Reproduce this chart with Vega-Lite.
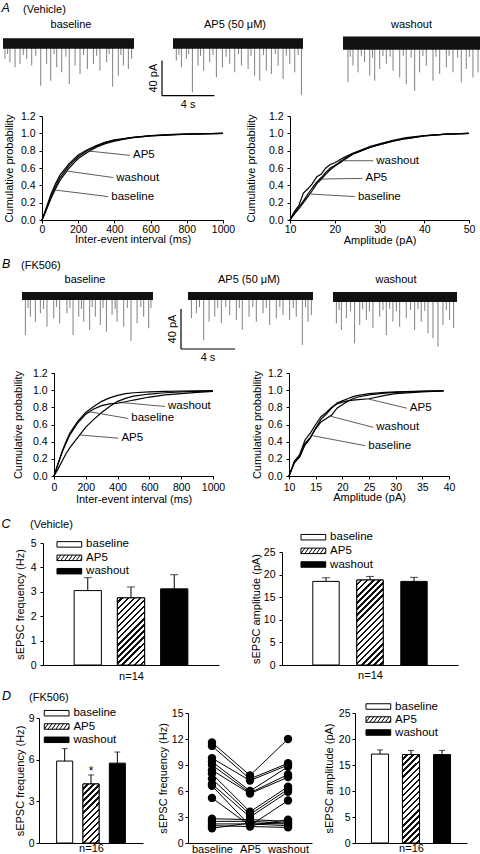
{
"$schema":"https://vega.github.io/schema/vega-lite/v6.json",
"padding":{"left":0,"top":2,"right":0,"bottom":0},
"autosize":{"type":"pad"},
"background":"white",
"spacing":0,
"resolve":{"scale":{"fill":"independent","shape":"independent","stroke":"independent"},"legend":{"fill":"independent","shape":"independent","stroke":"independent"}},
"config":{
 "font":"Liberation Sans",
 "view":{"stroke":null},
 "axis":{"domainColor":"black","tickColor":"black","labelColor":"black","titleColor":"black","grid":false,"labelFontSize":10.5,"titleFontSize":11,"titleFontWeight":"normal","tickSize":3,"labelPadding":4,"labelFlush":false,"labelOverlap":false,"domainWidth":1,"tickWidth":1},
 "title":{"fontSize":11,"fontWeight":"normal","color":"black","limit":400,"frame":"group"},
 "legend":{"labelFontSize":11.5,"labelColor":"black","symbolStrokeColor":"black","symbolStrokeWidth":1,"symbolSize":30.25,"symbolOpacity":1,"labelOffset":11,"padding":0,"orient":"none"},
 "text":{"color":"black","fontSize":11.5}
},
"vconcat":[
{"hconcat":[
 {"width":1,"height":78,"data":{"values":[]},"mark":"point","title":{"text":"A","fontSize":12.5,"fontStyle":"italic","anchor":"start","offset":18.2,"dx":1.5}},
 {"width":2,"height":1,"data":{"values":[]},"mark":"point","title":{"text":"(Vehicle)","fontSize":11,"anchor":"start","offset":18.5,"dx":22}},
 {"width":131,"height":65,"title":{"text":"baseline","offset":2.9,"dx":2.5},
  "layer":[
   {"data":{"values":[{"t":0.15,"a":-17.5},{"t":0.35,"a":-12},{"t":0.53,"a":-21.3},{"t":0.92,"a":-27},{"t":1.3,"a":-23.2},{"t":1.55,"a":-13},{"t":1.81,"a":-17.5},{"t":2.19,"a":-25.1},{"t":2.5,"a":-14},{"t":2.88,"a":-48},{"t":3.33,"a":-23.2},{"t":3.64,"a":-42.3},{"t":3.9,"a":-12},{"t":4.1,"a":-27},{"t":4.48,"a":-32.8},{"t":4.8,"a":-15},{"t":5.06,"a":-46.1},{"t":5.5,"a":-25.1},{"t":5.88,"a":-34.7},{"t":6.15,"a":-13},{"t":6.44,"a":-29},{"t":6.9,"a":-23.2},{"t":7.15,"a":-14},{"t":7.4,"a":-30.9},{"t":7.91,"a":-21.3},{"t":8.1,"a":-12},{"t":8.37,"a":-49.1},{"t":8.8,"a":-36.6},{"t":9.0,"a":-13},{"t":9.19,"a":-25.1},{"t":9.57,"a":-29},{"t":9.82,"a":-17.5}]},
    "mark":{"type":"rule","color":"#808080","strokeWidth":1},
    "encoding":{"x":{"field":"t","type":"quantitative","scale":{"domain":[0,10],"nice":false,"zero":false},"axis":null},"y":{"field":"a","type":"quantitative","scale":{"domain":[-62,12],"nice":false,"zero":false},"axis":null},"y2":{"datum":0}}},
   {"data":{"values":[{"t0":0,"t1":10,"lo":-6,"hi":6}]},"mark":{"type":"rect","color":"#111"},
    "encoding":{"x":{"field":"t0","type":"quantitative","axis":null},"x2":{"field":"t1"},"y":{"field":"lo","type":"quantitative","axis":null},"y2":{"field":"hi"}}}
  ]},
 {"width":28,"height":1,"data":{"values":[]},"mark":"point"},
 {"width":141,"height":65,"title":{"text":"AP5 (50 μM)","offset":2.9,"dx":2.5},
  "layer":[
   {"data":{"values":[{"t":0.25,"a":-19.4},{"t":0.45,"a":-13},{"t":0.64,"a":-27},{"t":1.02,"a":-17.5},{"t":1.2,"a":-12},{"t":1.48,"a":-55.6},{"t":1.91,"a":-25.1},{"t":2.1,"a":-14},{"t":2.34,"a":-30.9},{"t":2.8,"a":-21.3},{"t":3.05,"a":-13},{"t":3.31,"a":-38.5},{"t":3.77,"a":-27},{"t":4.05,"a":-15},{"t":4.33,"a":-23.2},{"t":4.71,"a":-32.8},{"t":5.0,"a":-12},{"t":5.22,"a":-25.1},{"t":5.73,"a":-29},{"t":5.95,"a":-14},{"t":6.23,"a":-36.6},{"t":6.62,"a":-42.3},{"t":6.9,"a":-13},{"t":7.12,"a":-30.9},{"t":7.51,"a":-34.7},{"t":7.8,"a":-12},{"t":8.02,"a":-25.1},{"t":8.4,"a":-40.4},{"t":8.65,"a":-14},{"t":8.91,"a":-23.2},{"t":9.29,"a":-32.8},{"t":9.55,"a":-13},{"t":9.8,"a":-58.3}]},
    "mark":{"type":"rule","color":"#808080","strokeWidth":1},
    "encoding":{"x":{"field":"t","type":"quantitative","scale":{"domain":[-0.84,9.92],"nice":false,"zero":false},"axis":null},"y":{"field":"a","type":"quantitative","scale":{"domain":[-62,12],"nice":false,"zero":false},"axis":null},"y2":{"datum":0}}},
   {"data":{"values":[{"t0":0,"t1":9.92,"lo":-6,"hi":6}]},"mark":{"type":"rect","color":"#111"},
    "encoding":{"x":{"field":"t0","type":"quantitative","axis":null},"x2":{"field":"t1"},"y":{"field":"lo","type":"quantitative","axis":null},"y2":{"field":"hi"}}},
   {"data":{"values":[{"x1":-0.84,"y1":-19.4,"x2":-0.84,"y2":-59.4},{"x1":-0.84,"y1":-59.4,"x2":3.16,"y2":-59.4}]},"mark":{"type":"rule","color":"black","strokeWidth":1.2},
    "encoding":{"x":{"field":"x1","type":"quantitative","axis":null},"x2":{"field":"x2"},"y":{"field":"y1","type":"quantitative","axis":null},"y2":{"field":"y2"}}},
   {"data":{"values":[{"x":-0.84,"y":-39.4,"lab":"40 pA"}]},"mark":{"type":"text","angle":270,"align":"center","baseline":"bottom","dy":-3,"fontSize":11},
    "encoding":{"x":{"field":"x","type":"quantitative","axis":null},"y":{"field":"y","type":"quantitative","axis":null},"text":{"field":"lab"}}},
   {"data":{"values":[{"x":1.16,"y":-59.4,"lab":"4 s"}]},"mark":{"type":"text","align":"center","baseline":"top","dy":3,"fontSize":11},
    "encoding":{"x":{"field":"x","type":"quantitative","axis":null},"y":{"field":"y","type":"quantitative","axis":null},"text":{"field":"lab"}}}
  ]},
 {"width":40,"height":1,"data":{"values":[]},"mark":"point"},
 {"width":137,"height":65,"title":{"text":"washout","offset":2.9,"dx":0},
  "layer":[
   {"data":{"values":[{"t":0.38,"a":-44.2},{"t":0.55,"a":-15},{"t":0.76,"a":-25.1},{"t":1.15,"a":-32.8},{"t":1.4,"a":-14},{"t":1.65,"a":-21.3},{"t":2.04,"a":-36.6},{"t":2.25,"a":-16},{"t":2.42,"a":-42.3},{"t":2.8,"a":-29},{"t":3.05,"a":-14},{"t":3.31,"a":-23.2},{"t":3.6,"a":-15},{"t":3.82,"a":-30.9},{"t":4.33,"a":-38.5},{"t":4.6,"a":-14},{"t":4.83,"a":-46.1},{"t":5.2,"a":-16},{"t":5.47,"a":-53.7},{"t":5.85,"a":-32.8},{"t":6.1,"a":-14},{"t":6.36,"a":-25.1},{"t":6.87,"a":-42.3},{"t":7.1,"a":-15},{"t":7.38,"a":-34.7},{"t":7.89,"a":-27},{"t":8.1,"a":-14},{"t":8.4,"a":-32.8},{"t":8.75,"a":-16},{"t":9.03,"a":-44.2},{"t":9.41,"a":-29},{"t":9.65,"a":-15},{"t":9.92,"a":-38.5},{"t":10.31,"a":-32.8}]},
    "mark":{"type":"rule","color":"#808080","strokeWidth":1},
    "encoding":{"x":{"field":"t","type":"quantitative","scale":{"domain":[0,10.46],"nice":false,"zero":false},"axis":null},"y":{"field":"a","type":"quantitative","scale":{"domain":[-62,12],"nice":false,"zero":false},"axis":null},"y2":{"datum":0}}},
   {"data":{"values":[{"t0":0,"t1":10.46,"lo":-7,"hi":8}]},"mark":{"type":"rect","color":"#111"},
    "encoding":{"x":{"field":"t0","type":"quantitative","axis":null},"x2":{"field":"t1"},"y":{"field":"lo","type":"quantitative","axis":null},"y2":{"field":"hi"}}}
  ]}
],"spacing":0,"bounds":"flush"},
{"hconcat":[
 {"width":42,"height":141.9,"data":{"values":[]},"mark":"point"},
 {"width":181,"height":104,
  "layer":[
   {"data":{"values":[{"x":0,"baseline":0,"washout":0,"AP5":0},{"x":25,"baseline":0.12,"washout":0.13,"AP5":0.15},{"x":50,"baseline":0.25,"washout":0.27,"AP5":0.3},{"x":75,"baseline":0.36,"washout":0.39,"AP5":0.42},{"x":100,"baseline":0.46,"washout":0.49,"AP5":0.52},{"x":150,"baseline":0.6,"washout":0.63,"AP5":0.65},{"x":200,"baseline":0.71,"washout":0.73,"AP5":0.75},{"x":250,"baseline":0.78,"washout":0.8,"AP5":0.81},{"x":300,"baseline":0.84,"washout":0.85,"AP5":0.86},{"x":350,"baseline":0.88,"washout":0.89,"AP5":0.9},{"x":400,"baseline":0.91,"washout":0.92,"AP5":0.925},{"x":500,"baseline":0.95,"washout":0.95,"AP5":0.955},{"x":600,"baseline":0.97,"washout":0.97,"AP5":0.975},{"x":700,"baseline":0.98,"washout":0.985,"AP5":0.985},{"x":800,"baseline":0.99,"washout":0.99,"AP5":0.99},{"x":1000,"baseline":1,"washout":1,"AP5":1}]},
    "transform":[{"fold":["baseline","washout","AP5"],"as":["s","y"]}],
    "mark":{"type":"line","color":"black","strokeWidth":1.2},
    "encoding":{"x":{"field":"x","type":"quantitative","scale":{"domain":[0,1000],"nice":false},"axis":{"values":[0,200,400,600,800,1000],"format":"d","title":"Inter-event interval (ms)","labelPadding":1,"titlePadding":-1,"labelOverlap":false}},
     "y":{"field":"y","type":"quantitative","scale":{"domain":[0,1.2],"nice":false},"axis":{"values":[0,0.2,0.4,0.6,0.8,1,1.2],"format":".1f","title":"Cumulative probability","titlePadding":6,"labelOverlap":false}},
     "detail":{"field":"s","type":"nominal"}}},
   {"data":{"values":[{"lab":"AP5","x1":256,"y1":0.796,"x2":486,"y2":0.746},{"lab":"washout","x1":136,"y1":0.565,"x2":394,"y2":0.49},{"lab":"baseline","x1":72,"y1":0.346,"x2":366,"y2":0.27}]},
    "layer":[
     {"mark":{"type":"rule","color":"#333","strokeWidth":0.8},"encoding":{"x":{"field":"x1","type":"quantitative","axis":{"values":[0,200,400,600,800,1000],"format":"d","title":"Inter-event interval (ms)","labelPadding":1,"titlePadding":-1,"labelOverlap":false}},"y":{"field":"y1","type":"quantitative","axis":{"values":[0,0.2,0.4,0.6,0.8,1,1.2],"format":".1f","title":"Cumulative probability","titlePadding":6,"labelOverlap":false}},"x2":{"field":"x2"},"y2":{"field":"y2"}}},
     {"mark":{"type":"text","align":"left","baseline":"middle","dx":3},"encoding":{"x":{"field":"x2","type":"quantitative","axis":{"values":[0,200,400,600,800,1000],"format":"d","title":"Inter-event interval (ms)","labelPadding":1,"titlePadding":-1,"labelOverlap":false}},"y":{"field":"y2","type":"quantitative","axis":{"values":[0,0.2,0.4,0.6,0.8,1,1.2],"format":".1f","title":"Cumulative probability","titlePadding":6,"labelOverlap":false}},"text":{"field":"lab"}}}
    ]}
  ]},
 {"width":67,"height":1,"data":{"values":[]},"mark":"point"},
 {"width":179,"height":104,
  "layer":[
   {"data":{"values":[{"x":10,"washout":0,"AP5":0,"baseline":0},{"x":11,"washout":0.1,"AP5":0.08,"baseline":0.07},{"x":12,"washout":0.17,"AP5":0.15,"baseline":0.13},{"x":13,"washout":0.31,"AP5":0.22,"baseline":0.2},{"x":14,"washout":0.36,"AP5":0.3,"baseline":0.27},{"x":15,"washout":0.42,"AP5":0.37,"baseline":0.34},{"x":16,"washout":0.5,"AP5":0.44,"baseline":0.42},{"x":17,"washout":0.53,"AP5":0.49,"baseline":0.47},{"x":18,"washout":0.6,"AP5":0.55,"baseline":0.53},{"x":19,"washout":0.64,"AP5":0.6,"baseline":0.58},{"x":20,"washout":0.66,"AP5":0.63,"baseline":0.62},{"x":22,"washout":0.72,"AP5":0.7,"baseline":0.69},{"x":24,"washout":0.77,"AP5":0.76,"baseline":0.76},{"x":26,"washout":0.81,"AP5":0.8,"baseline":0.8},{"x":28,"washout":0.85,"AP5":0.84,"baseline":0.84},{"x":30,"washout":0.88,"AP5":0.87,"baseline":0.87},{"x":33,"washout":0.92,"AP5":0.91,"baseline":0.91},{"x":36,"washout":0.95,"AP5":0.94,"baseline":0.94},{"x":40,"washout":0.975,"AP5":0.97,"baseline":0.97},{"x":45,"washout":0.99,"AP5":0.99,"baseline":0.99},{"x":50,"washout":1,"AP5":1,"baseline":1}]},
    "transform":[{"fold":["baseline","washout","AP5"],"as":["s","y"]}],
    "mark":{"type":"line","color":"black","strokeWidth":1.2},
    "encoding":{"x":{"field":"x","type":"quantitative","scale":{"domain":[10,50],"nice":false,"zero":false},"axis":{"values":[10,20,30,40,50],"title":"Amplitude (pA)","labelPadding":1,"titlePadding":0,"labelOverlap":false}},
     "y":{"field":"y","type":"quantitative","scale":{"domain":[0,1.2],"nice":false},"axis":{"values":[0,0.2,0.4,0.6,0.8,1,1.2],"format":".1f","title":"Cumulative probability","titlePadding":12,"labelOverlap":false}},
     "detail":{"field":"s","type":"nominal"}}},
   {"data":{"values":[{"lab":"washout","x1":20.8,"y1":0.684,"x2":28.6,"y2":0.684},{"lab":"AP5","x1":17.1,"y1":0.473,"x2":26.2,"y2":0.48},{"lab":"baseline","x1":14.5,"y1":0.3,"x2":24.5,"y2":0.27}]},
    "layer":[
     {"mark":{"type":"rule","color":"#333","strokeWidth":0.8},"encoding":{"x":{"field":"x1","type":"quantitative","axis":{"values":[10,20,30,40,50],"title":"Amplitude (pA)","labelPadding":1,"titlePadding":0,"labelOverlap":false}},"y":{"field":"y1","type":"quantitative","axis":{"values":[0,0.2,0.4,0.6,0.8,1,1.2],"format":".1f","title":"Cumulative probability","titlePadding":12,"labelOverlap":false}},"x2":{"field":"x2"},"y2":{"field":"y2"}}},
     {"mark":{"type":"text","align":"left","baseline":"middle","dx":3},"encoding":{"x":{"field":"x2","type":"quantitative","axis":{"values":[10,20,30,40,50],"title":"Amplitude (pA)","labelPadding":1,"titlePadding":0,"labelOverlap":false}},"y":{"field":"y2","type":"quantitative","axis":{"values":[0,0.2,0.4,0.6,0.8,1,1.2],"format":".1f","title":"Cumulative probability","titlePadding":12,"labelOverlap":false}},"text":{"field":"lab"}}}
    ]}
  ]}
],"spacing":0,"bounds":"flush"},
{"hconcat":[
 {"width":1,"height":79.5,"data":{"values":[]},"mark":"point","title":{"text":"B","fontSize":12.5,"fontStyle":"italic","anchor":"start","offset":17.1,"dx":2}},
 {"width":21,"height":1,"data":{"values":[]},"mark":"point","title":{"text":"(FK506)","fontSize":11,"anchor":"start","offset":17.4,"dx":20}},
 {"width":131,"height":62,"title":{"text":"baseline","offset":3.4,"dx":-2.5},
  "layer":[
   {"data":{"values":[{"t":0.25,"a":-39},{"t":0.45,"a":-12},{"t":0.62,"a":-20.7},{"t":0.99,"a":-25.7},{"t":1.36,"a":-17.3},{"t":1.6,"a":-13},{"t":1.85,"a":-30.7},{"t":2.35,"a":-22.3},{"t":2.55,"a":-11},{"t":2.79,"a":-27.3},{"t":3.33,"a":-17.3},{"t":3.55,"a":-12},{"t":3.78,"a":-39},{"t":4.2,"a":-20.7},{"t":4.4,"a":-13},{"t":4.57,"a":-25.7},{"t":5.01,"a":-34},{"t":5.2,"a":-11},{"t":5.43,"a":-20.7},{"t":5.8,"a":-29},{"t":6.0,"a":-12},{"t":6.25,"a":-35.7},{"t":6.67,"a":-19},{"t":6.9,"a":-13},{"t":7.04,"a":-25.7},{"t":7.53,"a":-30.7},{"t":7.8,"a":-12},{"t":8.07,"a":-44.7},{"t":8.52,"a":-27.3},{"t":8.8,"a":-11},{"t":9.01,"a":-20.7},{"t":9.38,"a":-32.3},{"t":9.55,"a":-12}]},
    "mark":{"type":"rule","color":"#808080","strokeWidth":1},
    "encoding":{"x":{"field":"t","type":"quantitative","scale":{"domain":[0,9.7],"nice":false,"zero":false},"axis":null},"y":{"field":"a","type":"quantitative","scale":{"domain":[-54,8],"nice":false,"zero":false},"axis":null},"y2":{"datum":0}}},
   {"data":{"values":[{"t0":0,"t1":9.7,"lo":-4,"hi":4}]},"mark":{"type":"rect","color":"#111"},
    "encoding":{"x":{"field":"t0","type":"quantitative","axis":null},"x2":{"field":"t1"},"y":{"field":"lo","type":"quantitative","axis":null},"y2":{"field":"hi"}}}
  ]},
 {"width":28,"height":1,"data":{"values":[]},"mark":"point"},
 {"width":132,"height":62,"title":{"text":"AP5 (50 μM)","offset":3.4,"dx":2},
  "layer":[
   {"data":{"values":[{"t":0.25,"a":-22.3},{"t":0.62,"a":-17.3},{"t":0.85,"a":-11},{"t":1.16,"a":-44},{"t":1.56,"a":-25.7},{"t":1.98,"a":-20.7},{"t":2.2,"a":-12},{"t":2.47,"a":-27.3},{"t":2.8,"a":-11},{"t":3.09,"a":-19},{"t":3.58,"a":-24},{"t":3.8,"a":-12},{"t":4.02,"a":-34},{"t":4.52,"a":-20.7},{"t":4.8,"a":-11},{"t":5.06,"a":-25.7},{"t":5.56,"a":-17.3},{"t":5.8,"a":-12},{"t":6.05,"a":-29},{"t":6.54,"a":-22.3},{"t":6.8,"a":-11},{"t":7.04,"a":-19},{"t":7.53,"a":-24},{"t":7.8,"a":-12},{"t":8.02,"a":-20.7},{"t":8.47,"a":-49},{"t":8.7,"a":-11},{"t":8.89,"a":-25.7},{"t":9.14,"a":-19}]},
    "mark":{"type":"rule","color":"#808080","strokeWidth":1},
    "encoding":{"x":{"field":"t","type":"quantitative","scale":{"domain":[-0.52,9.26],"nice":false,"zero":false},"axis":null},"y":{"field":"a","type":"quantitative","scale":{"domain":[-54,8],"nice":false,"zero":false},"axis":null},"y2":{"datum":0}}},
   {"data":{"values":[{"t0":0,"t1":9.26,"lo":-4,"hi":4}]},"mark":{"type":"rect","color":"#111"},
    "encoding":{"x":{"field":"t0","type":"quantitative","axis":null},"x2":{"field":"t1"},"y":{"field":"lo","type":"quantitative","axis":null},"y2":{"field":"hi"}}},
   {"data":{"values":[{"x1":-0.52,"y1":-13,"x2":-0.52,"y2":-53},{"x1":-0.52,"y1":-53,"x2":3.48,"y2":-53}]},"mark":{"type":"rule","color":"black","strokeWidth":1.2},
    "encoding":{"x":{"field":"x1","type":"quantitative","axis":null},"x2":{"field":"x2"},"y":{"field":"y1","type":"quantitative","axis":null},"y2":{"field":"y2"}}},
   {"data":{"values":[{"x":-0.52,"y":-33,"lab":"40 pA"}]},"mark":{"type":"text","angle":270,"align":"center","baseline":"bottom","dy":-3,"fontSize":11},
    "encoding":{"x":{"field":"x","type":"quantitative","axis":null},"y":{"field":"y","type":"quantitative","axis":null},"text":{"field":"lab"}}},
   {"data":{"values":[{"x":1.48,"y":-53,"lab":"4 s"}]},"mark":{"type":"text","align":"center","baseline":"top","dy":3,"fontSize":11},
    "encoding":{"x":{"field":"x","type":"quantitative","axis":null},"y":{"field":"y","type":"quantitative","axis":null},"text":{"field":"lab"}}}
  ]},
 {"width":20,"height":1,"data":{"values":[]},"mark":"point"},
 {"width":124,"height":62,"title":{"text":"washout","offset":3.4,"dx":1},
  "layer":[
   {"data":{"values":[{"t":0.25,"a":-27.3},{"t":0.45,"a":-14},{"t":0.62,"a":-34},{"t":0.99,"a":-22.3},{"t":1.3,"a":-15},{"t":1.6,"a":-47.3},{"t":1.98,"a":-29},{"t":2.2,"a":-13},{"t":2.47,"a":-24},{"t":2.7,"a":-15},{"t":2.96,"a":-32.3},{"t":3.46,"a":-20.7},{"t":3.7,"a":-14},{"t":3.95,"a":-39},{"t":4.2,"a":-13},{"t":4.44,"a":-25.7},{"t":4.7,"a":-15},{"t":4.94,"a":-30.7},{"t":5.43,"a":-22.3},{"t":5.75,"a":-14},{"t":6.05,"a":-34},{"t":6.3,"a":-13},{"t":6.54,"a":-25.7},{"t":6.8,"a":-15},{"t":7.04,"a":-37.3},{"t":7.41,"a":-42.3},{"t":7.78,"a":-50.7},{"t":8.15,"a":-29},{"t":8.4,"a":-14},{"t":8.64,"a":-24},{"t":8.94,"a":-32.3}]},
    "mark":{"type":"rule","color":"#808080","strokeWidth":1},
    "encoding":{"x":{"field":"t","type":"quantitative","scale":{"domain":[0,9.19],"nice":false,"zero":false},"axis":null},"y":{"field":"a","type":"quantitative","scale":{"domain":[-54,8],"nice":false,"zero":false},"axis":null},"y2":{"datum":0}}},
   {"data":{"values":[{"t0":0,"t1":9.19,"lo":-6,"hi":4}]},"mark":{"type":"rect","color":"#111"},
    "encoding":{"x":{"field":"t0","type":"quantitative","axis":null},"x2":{"field":"t1"},"y":{"field":"lo","type":"quantitative","axis":null},"y2":{"field":"hi"}}}
  ]}
],"spacing":0,"bounds":"flush"},
{"hconcat":[
 {"width":54,"height":143.3,"data":{"values":[]},"mark":"point"},
 {"width":159,"height":103,
  "layer":[
   {"data":{"values":[{"x":0,"baseline":0,"washout":0,"AP5":0},{"x":25,"baseline":0.14,"washout":0.14,"AP5":0.08},{"x":50,"baseline":0.28,"washout":0.27,"AP5":0.17},{"x":75,"baseline":0.4,"washout":0.38,"AP5":0.26},{"x":100,"baseline":0.5,"washout":0.48,"AP5":0.33},{"x":150,"baseline":0.64,"washout":0.62,"AP5":0.45},{"x":200,"baseline":0.74,"washout":0.72,"AP5":0.57},{"x":250,"baseline":0.81,"washout":0.78,"AP5":0.66},{"x":300,"baseline":0.87,"washout":0.82,"AP5":0.74},{"x":350,"baseline":0.91,"washout":0.84,"AP5":0.81},{"x":400,"baseline":0.94,"washout":0.85,"AP5":0.87},{"x":450,"baseline":0.96,"washout":0.865,"AP5":0.905},{"x":500,"baseline":0.97,"washout":0.885,"AP5":0.93},{"x":600,"baseline":0.98,"washout":0.92,"AP5":0.955},{"x":700,"baseline":0.985,"washout":0.945,"AP5":0.97},{"x":800,"baseline":0.99,"washout":0.96,"AP5":0.98},{"x":900,"baseline":0.993,"washout":0.975,"AP5":0.985},{"x":1000,"baseline":0.995,"washout":0.985,"AP5":0.99}]},
    "transform":[{"fold":["baseline","washout","AP5"],"as":["s","y"]}],
    "mark":{"type":"line","color":"black","strokeWidth":1.2},
    "encoding":{"x":{"field":"x","type":"quantitative","scale":{"domain":[0,1000],"nice":false},"axis":{"values":[0,200,400,600,800,1000],"format":"d","title":"Inter-event interval (ms)","labelPadding":3,"titlePadding":1,"labelOverlap":false}},
     "y":{"field":"y","type":"quantitative","scale":{"domain":[0,1.2],"nice":false},"axis":{"values":[0,0.2,0.4,0.6,0.8,1,1.2],"format":".1f","title":"Cumulative probability","titlePadding":9,"labelOverlap":false}},
     "detail":{"field":"s","type":"nominal"}}},
   {"data":{"values":[{"lab":"washout","x1":426,"y1":0.855,"x2":698,"y2":0.81},{"lab":"baseline","x1":216,"y1":0.75,"x2":467,"y2":0.67},{"lab":"AP5","x1":164,"y1":0.478,"x2":405,"y2":0.44}]},
    "layer":[
     {"mark":{"type":"rule","color":"#333","strokeWidth":0.8},"encoding":{"x":{"field":"x1","type":"quantitative","axis":{"values":[0,200,400,600,800,1000],"format":"d","title":"Inter-event interval (ms)","labelPadding":3,"titlePadding":1,"labelOverlap":false}},"y":{"field":"y1","type":"quantitative","axis":{"values":[0,0.2,0.4,0.6,0.8,1,1.2],"format":".1f","title":"Cumulative probability","titlePadding":9,"labelOverlap":false}},"x2":{"field":"x2"},"y2":{"field":"y2"}}},
     {"mark":{"type":"text","align":"left","baseline":"middle","dx":3},"encoding":{"x":{"field":"x2","type":"quantitative","axis":{"values":[0,200,400,600,800,1000],"format":"d","title":"Inter-event interval (ms)","labelPadding":3,"titlePadding":1,"labelOverlap":false}},"y":{"field":"y2","type":"quantitative","axis":{"values":[0,0.2,0.4,0.6,0.8,1,1.2],"format":".1f","title":"Cumulative probability","titlePadding":9,"labelOverlap":false}},"text":{"field":"lab"}}}
    ]}
  ]},
 {"width":76,"height":1,"data":{"values":[]},"mark":"point"},
 {"width":160,"height":103,
  "layer":[
   {"data":{"values":[{"x":10,"baseline":0,"washout":0,"AP5":0},{"x":11,"baseline":0.15,"washout":0.16,"AP5":0.17},{"x":12,"baseline":0.23,"washout":0.22,"AP5":0.25},{"x":13,"baseline":0.38,"washout":0.36,"AP5":0.42},{"x":14,"baseline":0.45,"washout":0.44,"AP5":0.5},{"x":15,"baseline":0.56,"washout":0.55,"AP5":0.6},{"x":16,"baseline":0.66,"washout":0.63,"AP5":0.69},{"x":17,"baseline":0.72,"washout":0.67,"AP5":0.74},{"x":18,"baseline":0.79,"washout":0.71,"AP5":0.8},{"x":19,"baseline":0.85,"washout":0.79,"AP5":0.84},{"x":20,"baseline":0.875,"washout":0.83,"AP5":0.86},{"x":21,"baseline":0.9,"washout":0.87,"AP5":0.875},{"x":22,"baseline":0.925,"washout":0.9,"AP5":0.885},{"x":23,"baseline":0.94,"washout":0.92,"AP5":0.89},{"x":25,"baseline":0.96,"washout":0.945,"AP5":0.9},{"x":28,"baseline":0.975,"washout":0.965,"AP5":0.94},{"x":30,"baseline":0.98,"washout":0.975,"AP5":0.96},{"x":35,"baseline":0.99,"washout":0.985,"AP5":0.98},{"x":39,"baseline":0.995,"washout":0.99,"AP5":0.99}]},
    "transform":[{"fold":["baseline","washout","AP5"],"as":["s","y"]}],
    "mark":{"type":"line","color":"black","strokeWidth":1.2},
    "encoding":{"x":{"field":"x","type":"quantitative","scale":{"domain":[10,40],"nice":false,"zero":false},"axis":{"values":[10,15,20,25,30,35,40],"title":"Amplitude (pA)","labelPadding":3,"titlePadding":-1,"labelOverlap":false}},
     "y":{"field":"y","type":"quantitative","scale":{"domain":[0,1.2],"nice":false},"axis":{"values":[0,0.2,0.4,0.6,0.8,1,1.2],"format":".1f","title":"Cumulative probability","titlePadding":5,"labelOverlap":false}},
     "detail":{"field":"s","type":"nominal"}}},
   {"data":{"values":[{"lab":"AP5","x1":24.9,"y1":0.897,"x2":32.1,"y2":0.79},{"lab":"washout","x1":17.8,"y1":0.696,"x2":25.8,"y2":0.567},{"lab":"baseline","x1":14.4,"y1":0.47,"x2":24.3,"y2":0.353}]},
    "layer":[
     {"mark":{"type":"rule","color":"#333","strokeWidth":0.8},"encoding":{"x":{"field":"x1","type":"quantitative","axis":{"values":[10,15,20,25,30,35,40],"title":"Amplitude (pA)","labelPadding":3,"titlePadding":-1,"labelOverlap":false}},"y":{"field":"y1","type":"quantitative","axis":{"values":[0,0.2,0.4,0.6,0.8,1,1.2],"format":".1f","title":"Cumulative probability","titlePadding":5,"labelOverlap":false}},"x2":{"field":"x2"},"y2":{"field":"y2"}}},
     {"mark":{"type":"text","align":"left","baseline":"middle","dx":3},"encoding":{"x":{"field":"x2","type":"quantitative","axis":{"values":[10,15,20,25,30,35,40],"title":"Amplitude (pA)","labelPadding":3,"titlePadding":-1,"labelOverlap":false}},"y":{"field":"y2","type":"quantitative","axis":{"values":[0,0.2,0.4,0.6,0.8,1,1.2],"format":".1f","title":"Cumulative probability","titlePadding":5,"labelOverlap":false}},"text":{"field":"lab"}}}
    ]}
  ]}
],"spacing":0,"bounds":"flush"},
{"hconcat":[
 {"width":1,"height":146.4,"data":{"values":[]},"mark":"point","title":{"text":"C","fontSize":12.5,"fontStyle":"italic","anchor":"start","offset":12.7,"dx":1.5}},
 {"width":42,"height":1,"data":{"values":[]},"mark":"point","title":{"text":"(Vehicle)","fontSize":11,"anchor":"start","offset":13,"dx":29}},
 {"width":176,"height":122,
  "data":{"values":[{"cond":"baseline","m":3.05,"u":3.58},{"cond":"AP5","m":2.75,"u":3.2},{"cond":"washout","m":3.12,"u":3.7}]},
  "encoding":{"x":{"field":"cond","type":"nominal","scale":{"domain":["baseline","AP5","washout"],"paddingInner":0.37,"paddingOuter":0.72},"axis":{"labels":false,"ticks":false,"title":"n=14","titlePadding":5.5}}},
  "layer":[
   {"mark":{"type":"bar","stroke":"black","strokeWidth":1},
    "encoding":{"y":{"field":"m","type":"quantitative","scale":{"domain":[0,5],"nice":false},"axis":{"values":[0,1,2,3,4,5],"title":"sEPSC frequency (Hz)","titlePadding":5,"labelOverlap":false}},
     "fill":{"condition":{"test":"datum.cond === 'washout'","value":"black"},"value":"white"}}},
   {"transform":[{"filter":"datum.cond === 'AP5'"}],
    "mark":{"type":"bar","stroke":"black","strokeWidth":1,"fill":{"gradient":"linear","x1":0,"y1":0,"x2":0.633,"y2":1.56,"stops":[{"offset":0,"color":"white"},{"offset":0.03,"color":"white"},{"offset":0.03,"color":"#111"},{"offset":0.05,"color":"#111"},{"offset":0.05,"color":"white"},{"offset":0.08,"color":"white"},{"offset":0.08,"color":"#111"},{"offset":0.1,"color":"#111"},{"offset":0.1,"color":"white"},{"offset":0.13,"color":"white"},{"offset":0.13,"color":"#111"},{"offset":0.15,"color":"#111"},{"offset":0.15,"color":"white"},{"offset":0.18,"color":"white"},{"offset":0.18,"color":"#111"},{"offset":0.2,"color":"#111"},{"offset":0.2,"color":"white"},{"offset":0.23,"color":"white"},{"offset":0.23,"color":"#111"},{"offset":0.25,"color":"#111"},{"offset":0.25,"color":"white"},{"offset":0.28,"color":"white"},{"offset":0.28,"color":"#111"},{"offset":0.3,"color":"#111"},{"offset":0.3,"color":"white"},{"offset":0.33,"color":"white"},{"offset":0.33,"color":"#111"},{"offset":0.35,"color":"#111"},{"offset":0.35,"color":"white"},{"offset":0.38,"color":"white"},{"offset":0.38,"color":"#111"},{"offset":0.4,"color":"#111"},{"offset":0.4,"color":"white"},{"offset":0.43,"color":"white"},{"offset":0.43,"color":"#111"},{"offset":0.45,"color":"#111"},{"offset":0.45,"color":"white"},{"offset":0.48,"color":"white"},{"offset":0.48,"color":"#111"},{"offset":0.5,"color":"#111"},{"offset":0.5,"color":"white"},{"offset":0.53,"color":"white"},{"offset":0.53,"color":"#111"},{"offset":0.55,"color":"#111"},{"offset":0.55,"color":"white"},{"offset":0.58,"color":"white"},{"offset":0.58,"color":"#111"},{"offset":0.6,"color":"#111"},{"offset":0.6,"color":"white"},{"offset":0.63,"color":"white"},{"offset":0.63,"color":"#111"},{"offset":0.65,"color":"#111"},{"offset":0.65,"color":"white"},{"offset":0.68,"color":"white"},{"offset":0.68,"color":"#111"},{"offset":0.7,"color":"#111"},{"offset":0.7,"color":"white"},{"offset":0.73,"color":"white"},{"offset":0.73,"color":"#111"},{"offset":0.75,"color":"#111"},{"offset":0.75,"color":"white"},{"offset":0.78,"color":"white"},{"offset":0.78,"color":"#111"},{"offset":0.8,"color":"#111"},{"offset":0.8,"color":"white"},{"offset":0.83,"color":"white"},{"offset":0.83,"color":"#111"},{"offset":0.85,"color":"#111"},{"offset":0.85,"color":"white"},{"offset":0.88,"color":"white"},{"offset":0.88,"color":"#111"},{"offset":0.9,"color":"#111"},{"offset":0.9,"color":"white"},{"offset":0.93,"color":"white"},{"offset":0.93,"color":"#111"},{"offset":0.95,"color":"#111"},{"offset":0.95,"color":"white"},{"offset":0.98,"color":"white"},{"offset":0.98,"color":"#111"},{"offset":1,"color":"#111"}]}},
    "encoding":{"y":{"field":"m","type":"quantitative","axis":{"values":[0,1,2,3,4,5],"title":"sEPSC frequency (Hz)","titlePadding":5,"labelOverlap":false}}}},
   {"mark":{"type":"rule","color":"black","strokeWidth":1},"encoding":{"y":{"field":"m","type":"quantitative","axis":{"values":[0,1,2,3,4,5],"title":"sEPSC frequency (Hz)","titlePadding":5,"labelOverlap":false}},"y2":{"field":"u"}}},
   {"mark":{"type":"tick","color":"black","thickness":1,"size":8},"encoding":{"y":{"field":"u","type":"quantitative","axis":{"values":[0,1,2,3,4,5],"title":"sEPSC frequency (Hz)","titlePadding":5,"labelOverlap":false}}}},
   {"transform":[{"filter":"datum.m < 0"}],"mark":{"type":"point","filled":true,"stroke":"black","strokeWidth":1},
    "encoding":{"y":{"field":"m","type":"quantitative","axis":{"values":[0,1,2,3,4,5],"title":"sEPSC frequency (Hz)","titlePadding":5,"labelOverlap":false}},
     "fill":{"field":"cond","type":"nominal","scale":{"domain":["baseline","AP5","washout"],"range":["white","white","black"]},"legend":{"title":null,"legendX":20.6,"legendY":-4.35,"rowPadding":0.4}},
     "stroke":{"field":"cond","type":"nominal","scale":{"domain":["baseline","AP5","washout"],"range":["black","black","black"]},"legend":{"title":null,"legendX":20.6,"legendY":-4.35,"rowPadding":0.4}},
     "shape":{"field":"cond","type":"nominal","scale":{"domain":["baseline","AP5","washout"],"range":["M-4.5,-1H4.5V1H-4.5Z","M-4.5,-1H4.5V1H-4.5Z M-4.5,1L-3.1,-1 M-3.1,1L-1.7,-1 M-1.7,1L-0.3,-1 M-0.3,1L1.1,-1 M1.1,1L2.5,-1 M2.5,1L3.9,-1 M3.9,1L4.5,0.14","M-4.5,-1H4.5V1H-4.5Z"]},"legend":{"title":null,"legendX":20.6,"legendY":-4.35,"rowPadding":0.4}}}}
  ]},
 {"width":63,"height":1,"data":{"values":[]},"mark":"point"},
 {"width":176,"height":122,
  "data":{"values":[{"cond":"baseline","m":18.5,"u":19.3},{"cond":"AP5","m":18.8,"u":19.6},{"cond":"washout","m":18.5,"u":19.4}]},
  "encoding":{"x":{"field":"cond","type":"nominal","scale":{"domain":["baseline","AP5","washout"],"paddingInner":0.4,"paddingOuter":0.7},"axis":{"labels":false,"ticks":false,"title":"n=14","titlePadding":4.5}}},
  "layer":[
   {"mark":{"type":"bar","stroke":"black","strokeWidth":1},
    "encoding":{"y":{"field":"m","type":"quantitative","scale":{"domain":[0,25],"nice":false,"range":[122,9]},"axis":{"values":[0,5,10,15,20,25],"title":"sEPSC amplitude (pA)","titlePadding":2,"labelOverlap":false}},
     "fill":{"condition":{"test":"datum.cond === 'washout'","value":"black"},"value":"white"}}},
   {"transform":[{"filter":"datum.cond === 'AP5'"}],
    "mark":{"type":"bar","stroke":"black","strokeWidth":1,"fill":{"gradient":"linear","x1":0,"y1":0,"x2":0.405,"y2":1.305,"stops":[{"offset":0,"color":"white"},{"offset":0.03,"color":"white"},{"offset":0.03,"color":"#111"},{"offset":0.05,"color":"#111"},{"offset":0.05,"color":"white"},{"offset":0.08,"color":"white"},{"offset":0.08,"color":"#111"},{"offset":0.1,"color":"#111"},{"offset":0.1,"color":"white"},{"offset":0.13,"color":"white"},{"offset":0.13,"color":"#111"},{"offset":0.15,"color":"#111"},{"offset":0.15,"color":"white"},{"offset":0.18,"color":"white"},{"offset":0.18,"color":"#111"},{"offset":0.2,"color":"#111"},{"offset":0.2,"color":"white"},{"offset":0.23,"color":"white"},{"offset":0.23,"color":"#111"},{"offset":0.25,"color":"#111"},{"offset":0.25,"color":"white"},{"offset":0.28,"color":"white"},{"offset":0.28,"color":"#111"},{"offset":0.3,"color":"#111"},{"offset":0.3,"color":"white"},{"offset":0.33,"color":"white"},{"offset":0.33,"color":"#111"},{"offset":0.35,"color":"#111"},{"offset":0.35,"color":"white"},{"offset":0.38,"color":"white"},{"offset":0.38,"color":"#111"},{"offset":0.4,"color":"#111"},{"offset":0.4,"color":"white"},{"offset":0.43,"color":"white"},{"offset":0.43,"color":"#111"},{"offset":0.45,"color":"#111"},{"offset":0.45,"color":"white"},{"offset":0.48,"color":"white"},{"offset":0.48,"color":"#111"},{"offset":0.5,"color":"#111"},{"offset":0.5,"color":"white"},{"offset":0.53,"color":"white"},{"offset":0.53,"color":"#111"},{"offset":0.55,"color":"#111"},{"offset":0.55,"color":"white"},{"offset":0.58,"color":"white"},{"offset":0.58,"color":"#111"},{"offset":0.6,"color":"#111"},{"offset":0.6,"color":"white"},{"offset":0.63,"color":"white"},{"offset":0.63,"color":"#111"},{"offset":0.65,"color":"#111"},{"offset":0.65,"color":"white"},{"offset":0.68,"color":"white"},{"offset":0.68,"color":"#111"},{"offset":0.7,"color":"#111"},{"offset":0.7,"color":"white"},{"offset":0.73,"color":"white"},{"offset":0.73,"color":"#111"},{"offset":0.75,"color":"#111"},{"offset":0.75,"color":"white"},{"offset":0.78,"color":"white"},{"offset":0.78,"color":"#111"},{"offset":0.8,"color":"#111"},{"offset":0.8,"color":"white"},{"offset":0.83,"color":"white"},{"offset":0.83,"color":"#111"},{"offset":0.85,"color":"#111"},{"offset":0.85,"color":"white"},{"offset":0.88,"color":"white"},{"offset":0.88,"color":"#111"},{"offset":0.9,"color":"#111"},{"offset":0.9,"color":"white"},{"offset":0.93,"color":"white"},{"offset":0.93,"color":"#111"},{"offset":0.95,"color":"#111"},{"offset":0.95,"color":"white"},{"offset":0.98,"color":"white"},{"offset":0.98,"color":"#111"},{"offset":1,"color":"#111"}]}},
    "encoding":{"y":{"field":"m","type":"quantitative","axis":{"values":[0,5,10,15,20,25],"title":"sEPSC amplitude (pA)","titlePadding":2,"labelOverlap":false}}}},
   {"mark":{"type":"rule","color":"black","strokeWidth":1},"encoding":{"y":{"field":"m","type":"quantitative","axis":{"values":[0,5,10,15,20,25],"title":"sEPSC amplitude (pA)","titlePadding":2,"labelOverlap":false}},"y2":{"field":"u"}}},
   {"mark":{"type":"tick","color":"black","thickness":1,"size":8},"encoding":{"y":{"field":"u","type":"quantitative","axis":{"values":[0,5,10,15,20,25],"title":"sEPSC amplitude (pA)","titlePadding":2,"labelOverlap":false}}}},
   {"transform":[{"filter":"datum.m < 0"}],"mark":{"type":"point","filled":true,"stroke":"black","strokeWidth":1},
    "encoding":{"y":{"field":"m","type":"quantitative","axis":{"values":[0,5,10,15,20,25],"title":"sEPSC amplitude (pA)","titlePadding":2,"labelOverlap":false}},
     "fill":{"field":"cond","type":"nominal","scale":{"domain":["baseline","AP5","washout"],"range":["white","white","black"]},"legend":{"title":null,"legendX":25.6,"legendY":-11.55,"rowPadding":0.65}},
     "stroke":{"field":"cond","type":"nominal","scale":{"domain":["baseline","AP5","washout"],"range":["black","black","black"]},"legend":{"title":null,"legendX":25.6,"legendY":-11.55,"rowPadding":0.65}},
     "shape":{"field":"cond","type":"nominal","scale":{"domain":["baseline","AP5","washout"],"range":["M-4.5,-1H4.5V1H-4.5Z","M-4.5,-1H4.5V1H-4.5Z M-4.5,1L-3.1,-1 M-3.1,1L-1.7,-1 M-1.7,1L-0.3,-1 M-0.3,1L1.1,-1 M1.1,1L2.5,-1 M2.5,1L3.9,-1 M3.9,1L4.5,0.14","M-4.5,-1H4.5V1H-4.5Z"]},"legend":{"title":null,"legendX":25.6,"legendY":-11.55,"rowPadding":0.65}}}}
  ]}
],"spacing":0,"bounds":"flush","resolve":{"scale":{"fill":"independent","shape":"independent","stroke":"independent"},"legend":{"fill":"independent","shape":"independent","stroke":"independent"}}},
{"hconcat":[
 {"width":1,"height":140,"data":{"values":[]},"mark":"point","title":{"text":"D","fontSize":12.5,"fontStyle":"italic","anchor":"start","offset":10.1,"dx":2}},
 {"width":38,"height":1,"data":{"values":[]},"mark":"point","title":{"text":"(FK506)","fontSize":11,"anchor":"start","offset":10.2,"dx":28}},
 {"width":104,"height":130,
  "data":{"values":[{"cond":"baseline","m":5.9,"u":6.8},{"cond":"AP5","m":4.25,"u":4.9},{"cond":"washout","m":5.75,"u":6.55}]},
  "encoding":{"x":{"field":"cond","type":"nominal","scale":{"domain":["baseline","AP5","washout"],"paddingInner":0.39,"paddingOuter":0.67},"axis":{"labels":false,"ticks":false,"title":"n=16","titlePadding":-0.5}}},
  "layer":[
   {"mark":{"type":"bar","stroke":"black","strokeWidth":1},
    "encoding":{"y":{"field":"m","type":"quantitative","scale":{"domain":[0,9],"nice":false,"range":[130,5]},"axis":{"values":[0,3,6,9],"title":"sEPSC frequency (Hz)","titlePadding":3,"labelPadding":2,"labelOverlap":false}},
     "fill":{"condition":{"test":"datum.cond === 'washout'","value":"black"},"value":"white"}}},
   {"transform":[{"filter":"datum.cond === 'AP5'"}],
    "mark":{"type":"bar","stroke":"black","strokeWidth":1,"fill":{"gradient":"linear","x1":0,"y1":0,"x2":0.524,"y2":1.92,"stops":[{"offset":0,"color":"white"},{"offset":0.03,"color":"white"},{"offset":0.03,"color":"#111"},{"offset":0.05,"color":"#111"},{"offset":0.05,"color":"white"},{"offset":0.08,"color":"white"},{"offset":0.08,"color":"#111"},{"offset":0.1,"color":"#111"},{"offset":0.1,"color":"white"},{"offset":0.13,"color":"white"},{"offset":0.13,"color":"#111"},{"offset":0.15,"color":"#111"},{"offset":0.15,"color":"white"},{"offset":0.18,"color":"white"},{"offset":0.18,"color":"#111"},{"offset":0.2,"color":"#111"},{"offset":0.2,"color":"white"},{"offset":0.23,"color":"white"},{"offset":0.23,"color":"#111"},{"offset":0.25,"color":"#111"},{"offset":0.25,"color":"white"},{"offset":0.28,"color":"white"},{"offset":0.28,"color":"#111"},{"offset":0.3,"color":"#111"},{"offset":0.3,"color":"white"},{"offset":0.33,"color":"white"},{"offset":0.33,"color":"#111"},{"offset":0.35,"color":"#111"},{"offset":0.35,"color":"white"},{"offset":0.38,"color":"white"},{"offset":0.38,"color":"#111"},{"offset":0.4,"color":"#111"},{"offset":0.4,"color":"white"},{"offset":0.43,"color":"white"},{"offset":0.43,"color":"#111"},{"offset":0.45,"color":"#111"},{"offset":0.45,"color":"white"},{"offset":0.48,"color":"white"},{"offset":0.48,"color":"#111"},{"offset":0.5,"color":"#111"},{"offset":0.5,"color":"white"},{"offset":0.53,"color":"white"},{"offset":0.53,"color":"#111"},{"offset":0.55,"color":"#111"},{"offset":0.55,"color":"white"},{"offset":0.58,"color":"white"},{"offset":0.58,"color":"#111"},{"offset":0.6,"color":"#111"},{"offset":0.6,"color":"white"},{"offset":0.63,"color":"white"},{"offset":0.63,"color":"#111"},{"offset":0.65,"color":"#111"},{"offset":0.65,"color":"white"},{"offset":0.68,"color":"white"},{"offset":0.68,"color":"#111"},{"offset":0.7,"color":"#111"},{"offset":0.7,"color":"white"},{"offset":0.73,"color":"white"},{"offset":0.73,"color":"#111"},{"offset":0.75,"color":"#111"},{"offset":0.75,"color":"white"},{"offset":0.78,"color":"white"},{"offset":0.78,"color":"#111"},{"offset":0.8,"color":"#111"},{"offset":0.8,"color":"white"},{"offset":0.83,"color":"white"},{"offset":0.83,"color":"#111"},{"offset":0.85,"color":"#111"},{"offset":0.85,"color":"white"},{"offset":0.88,"color":"white"},{"offset":0.88,"color":"#111"},{"offset":0.9,"color":"#111"},{"offset":0.9,"color":"white"},{"offset":0.93,"color":"white"},{"offset":0.93,"color":"#111"},{"offset":0.95,"color":"#111"},{"offset":0.95,"color":"white"},{"offset":0.98,"color":"white"},{"offset":0.98,"color":"#111"},{"offset":1,"color":"#111"}]}},
    "encoding":{"y":{"field":"m","type":"quantitative","axis":{"values":[0,3,6,9],"title":"sEPSC frequency (Hz)","titlePadding":3,"labelPadding":2,"labelOverlap":false}}}},
   {"mark":{"type":"rule","color":"black","strokeWidth":1},"encoding":{"y":{"field":"m","type":"quantitative","axis":{"values":[0,3,6,9],"title":"sEPSC frequency (Hz)","titlePadding":3,"labelPadding":2,"labelOverlap":false}},"y2":{"field":"u"}}},
   {"mark":{"type":"tick","color":"black","thickness":1,"size":6},"encoding":{"y":{"field":"u","type":"quantitative","axis":{"values":[0,3,6,9],"title":"sEPSC frequency (Hz)","titlePadding":3,"labelPadding":2,"labelOverlap":false}}}},
   {"transform":[{"filter":"datum.cond === 'AP5'"}],"mark":{"type":"text","text":"*","fontSize":12,"baseline":"alphabetic","align":"center"},"encoding":{"y":{"field":"u","type":"quantitative","axis":{"values":[0,3,6,9],"title":"sEPSC frequency (Hz)","titlePadding":3,"labelPadding":2,"labelOverlap":false}}}},
   {"transform":[{"filter":"datum.m < 0"}],"mark":{"type":"point","filled":true,"stroke":"black","strokeWidth":1},
    "encoding":{"y":{"field":"m","type":"quantitative","axis":{"values":[0,3,6,9],"title":"sEPSC frequency (Hz)","titlePadding":3,"labelPadding":2,"labelOverlap":false}},
     "fill":{"field":"cond","type":"nominal","scale":{"domain":["baseline","AP5","washout"],"range":["white","white","black"]},"legend":{"title":null,"legendX":11.9,"legendY":-5.55,"rowPadding":0.3}},
     "stroke":{"field":"cond","type":"nominal","scale":{"domain":["baseline","AP5","washout"],"range":["black","black","black"]},"legend":{"title":null,"legendX":11.9,"legendY":-5.55,"rowPadding":0.3}},
     "shape":{"field":"cond","type":"nominal","scale":{"domain":["baseline","AP5","washout"],"range":["M-4.5,-1H4.5V1H-4.5Z","M-4.5,-1H4.5V1H-4.5Z M-4.5,1L-3.1,-1 M-3.1,1L-1.7,-1 M-1.7,1L-0.3,-1 M-0.3,1L1.1,-1 M1.1,1L2.5,-1 M2.5,1L3.9,-1 M3.9,1L4.5,0.14","M-4.5,-1H4.5V1H-4.5Z"]},"legend":{"title":null,"legendX":11.9,"legendY":-5.55,"rowPadding":0.3}}}}
  ]},
 {"width":45,"height":1,"data":{"values":[]},"mark":"point"},
 {"width":124,"height":130,
  "data":{"values":[{"cell":1,"baseline":11.6,"AP5":7.8,"washout":12},{"cell":2,"baseline":11.2,"AP5":7.4,"washout":9.2},{"cell":3,"baseline":9.8,"AP5":7.2,"washout":9},{"cell":4,"baseline":9.4,"AP5":6,"washout":8.8},{"cell":5,"baseline":9,"AP5":5.8,"washout":7.9},{"cell":6,"baseline":8.4,"AP5":5.7,"washout":7.6},{"cell":7,"baseline":8,"AP5":3.6,"washout":6.5},{"cell":8,"baseline":7.4,"AP5":3.3,"washout":6.2},{"cell":9,"baseline":6.8,"AP5":3,"washout":5.9},{"cell":10,"baseline":6.6,"AP5":2,"washout":4.9},{"cell":11,"baseline":5.2,"AP5":2,"washout":2.7},{"cell":12,"baseline":2.8,"AP5":2.7,"washout":2.5},{"cell":13,"baseline":2.5,"AP5":2.5,"washout":2.3},{"cell":14,"baseline":2.2,"AP5":2.2,"washout":2},{"cell":15,"baseline":2,"AP5":1.9,"washout":1.8},{"cell":16,"baseline":1.7,"AP5":2.3,"washout":2.2}]},
  "transform":[{"fold":["baseline","AP5","washout"],"as":["cond","f"]}],
  "encoding":{
   "x":{"field":"cond","type":"nominal","scale":{"type":"point","domain":["baseline","AP5","washout"],"padding":0.63},"axis":{"title":null,"ticks":false,"labelPadding":0.5,"labelFontSize":11,"labelAngle":0}},
   "y":{"field":"f","type":"quantitative","scale":{"domain":[0,15],"nice":false},"axis":{"values":[0,3,6,9,12,15],"title":"sEPSC frequency (Hz)","titlePadding":3,"labelPadding":2,"labelOverlap":false}}},
  "layer":[
   {"mark":{"type":"line","color":"black","strokeWidth":1},"encoding":{"detail":{"field":"cell","type":"nominal"},"order":{"value":null}}},
   {"mark":{"type":"point","filled":true,"color":"black","size":70,"opacity":1}}
  ]},
 {"width":43,"height":1,"data":{"values":[]},"mark":"point"},
 {"width":112,"height":130,
  "data":{"values":[{"cond":"baseline","m":17.1,"u":17.9},{"cond":"AP5","m":17,"u":17.8},{"cond":"washout","m":17,"u":17.8}]},
  "encoding":{"x":{"field":"cond","type":"nominal","scale":{"domain":["baseline","AP5","washout"],"paddingInner":0.45,"paddingOuter":0.53},"axis":{"labels":false,"ticks":false,"title":"n=16","titlePadding":-0.5}}},
  "layer":[
   {"mark":{"type":"bar","stroke":"black","strokeWidth":1},
    "encoding":{"y":{"field":"m","type":"quantitative","scale":{"domain":[0,25],"nice":false},"axis":{"values":[0,5,10,15,20,25],"title":"sEPSC amplitude (pA)","titlePadding":4,"labelPadding":2,"labelOverlap":false}},
     "fill":{"condition":{"test":"datum.cond === 'washout'","value":"black"},"value":"white"}}},
   {"transform":[{"filter":"datum.cond === 'AP5'"}],
    "mark":{"type":"bar","stroke":"black","strokeWidth":1,"fill":{"gradient":"linear","x1":0,"y1":0,"x2":0.255,"y2":1.326,"stops":[{"offset":0,"color":"white"},{"offset":0.03,"color":"white"},{"offset":0.03,"color":"#111"},{"offset":0.05,"color":"#111"},{"offset":0.05,"color":"white"},{"offset":0.08,"color":"white"},{"offset":0.08,"color":"#111"},{"offset":0.1,"color":"#111"},{"offset":0.1,"color":"white"},{"offset":0.13,"color":"white"},{"offset":0.13,"color":"#111"},{"offset":0.15,"color":"#111"},{"offset":0.15,"color":"white"},{"offset":0.18,"color":"white"},{"offset":0.18,"color":"#111"},{"offset":0.2,"color":"#111"},{"offset":0.2,"color":"white"},{"offset":0.23,"color":"white"},{"offset":0.23,"color":"#111"},{"offset":0.25,"color":"#111"},{"offset":0.25,"color":"white"},{"offset":0.28,"color":"white"},{"offset":0.28,"color":"#111"},{"offset":0.3,"color":"#111"},{"offset":0.3,"color":"white"},{"offset":0.33,"color":"white"},{"offset":0.33,"color":"#111"},{"offset":0.35,"color":"#111"},{"offset":0.35,"color":"white"},{"offset":0.38,"color":"white"},{"offset":0.38,"color":"#111"},{"offset":0.4,"color":"#111"},{"offset":0.4,"color":"white"},{"offset":0.43,"color":"white"},{"offset":0.43,"color":"#111"},{"offset":0.45,"color":"#111"},{"offset":0.45,"color":"white"},{"offset":0.48,"color":"white"},{"offset":0.48,"color":"#111"},{"offset":0.5,"color":"#111"},{"offset":0.5,"color":"white"},{"offset":0.53,"color":"white"},{"offset":0.53,"color":"#111"},{"offset":0.55,"color":"#111"},{"offset":0.55,"color":"white"},{"offset":0.58,"color":"white"},{"offset":0.58,"color":"#111"},{"offset":0.6,"color":"#111"},{"offset":0.6,"color":"white"},{"offset":0.63,"color":"white"},{"offset":0.63,"color":"#111"},{"offset":0.65,"color":"#111"},{"offset":0.65,"color":"white"},{"offset":0.68,"color":"white"},{"offset":0.68,"color":"#111"},{"offset":0.7,"color":"#111"},{"offset":0.7,"color":"white"},{"offset":0.73,"color":"white"},{"offset":0.73,"color":"#111"},{"offset":0.75,"color":"#111"},{"offset":0.75,"color":"white"},{"offset":0.78,"color":"white"},{"offset":0.78,"color":"#111"},{"offset":0.8,"color":"#111"},{"offset":0.8,"color":"white"},{"offset":0.83,"color":"white"},{"offset":0.83,"color":"#111"},{"offset":0.85,"color":"#111"},{"offset":0.85,"color":"white"},{"offset":0.88,"color":"white"},{"offset":0.88,"color":"#111"},{"offset":0.9,"color":"#111"},{"offset":0.9,"color":"white"},{"offset":0.93,"color":"white"},{"offset":0.93,"color":"#111"},{"offset":0.95,"color":"#111"},{"offset":0.95,"color":"white"},{"offset":0.98,"color":"white"},{"offset":0.98,"color":"#111"},{"offset":1,"color":"#111"}]}},
    "encoding":{"y":{"field":"m","type":"quantitative","axis":{"values":[0,5,10,15,20,25],"title":"sEPSC amplitude (pA)","titlePadding":4,"labelPadding":2,"labelOverlap":false}}}},
   {"mark":{"type":"rule","color":"black","strokeWidth":1},"encoding":{"y":{"field":"m","type":"quantitative","axis":{"values":[0,5,10,15,20,25],"title":"sEPSC amplitude (pA)","titlePadding":4,"labelPadding":2,"labelOverlap":false}},"y2":{"field":"u"}}},
   {"mark":{"type":"tick","color":"black","thickness":1,"size":6},"encoding":{"y":{"field":"u","type":"quantitative","axis":{"values":[0,5,10,15,20,25],"title":"sEPSC amplitude (pA)","titlePadding":4,"labelPadding":2,"labelOverlap":false}}}},
   {"transform":[{"filter":"datum.m < 0"}],"mark":{"type":"point","filled":true,"stroke":"black","strokeWidth":1},
    "encoding":{"y":{"field":"m","type":"quantitative","axis":{"values":[0,5,10,15,20,25],"title":"sEPSC amplitude (pA)","titlePadding":4,"labelPadding":2,"labelOverlap":false}},
     "fill":{"field":"cond","type":"nominal","scale":{"domain":["baseline","AP5","washout"],"range":["white","white","black"]},"legend":{"title":null,"legendX":17.6,"legendY":-12.25,"rowPadding":0}},
     "stroke":{"field":"cond","type":"nominal","scale":{"domain":["baseline","AP5","washout"],"range":["black","black","black"]},"legend":{"title":null,"legendX":17.6,"legendY":-12.25,"rowPadding":0}},
     "shape":{"field":"cond","type":"nominal","scale":{"domain":["baseline","AP5","washout"],"range":["M-4.5,-1H4.5V1H-4.5Z","M-4.5,-1H4.5V1H-4.5Z M-4.5,1L-3.1,-1 M-3.1,1L-1.7,-1 M-1.7,1L-0.3,-1 M-0.3,1L1.1,-1 M1.1,1L2.5,-1 M2.5,1L3.9,-1 M3.9,1L4.5,0.14","M-4.5,-1H4.5V1H-4.5Z"]},"legend":{"title":null,"legendX":17.6,"legendY":-12.25,"rowPadding":0}}}}
  ]}
],"spacing":0,"bounds":"flush","resolve":{"scale":{"fill":"independent","shape":"independent","stroke":"independent"},"legend":{"fill":"independent","shape":"independent","stroke":"independent"}}}
]
}
